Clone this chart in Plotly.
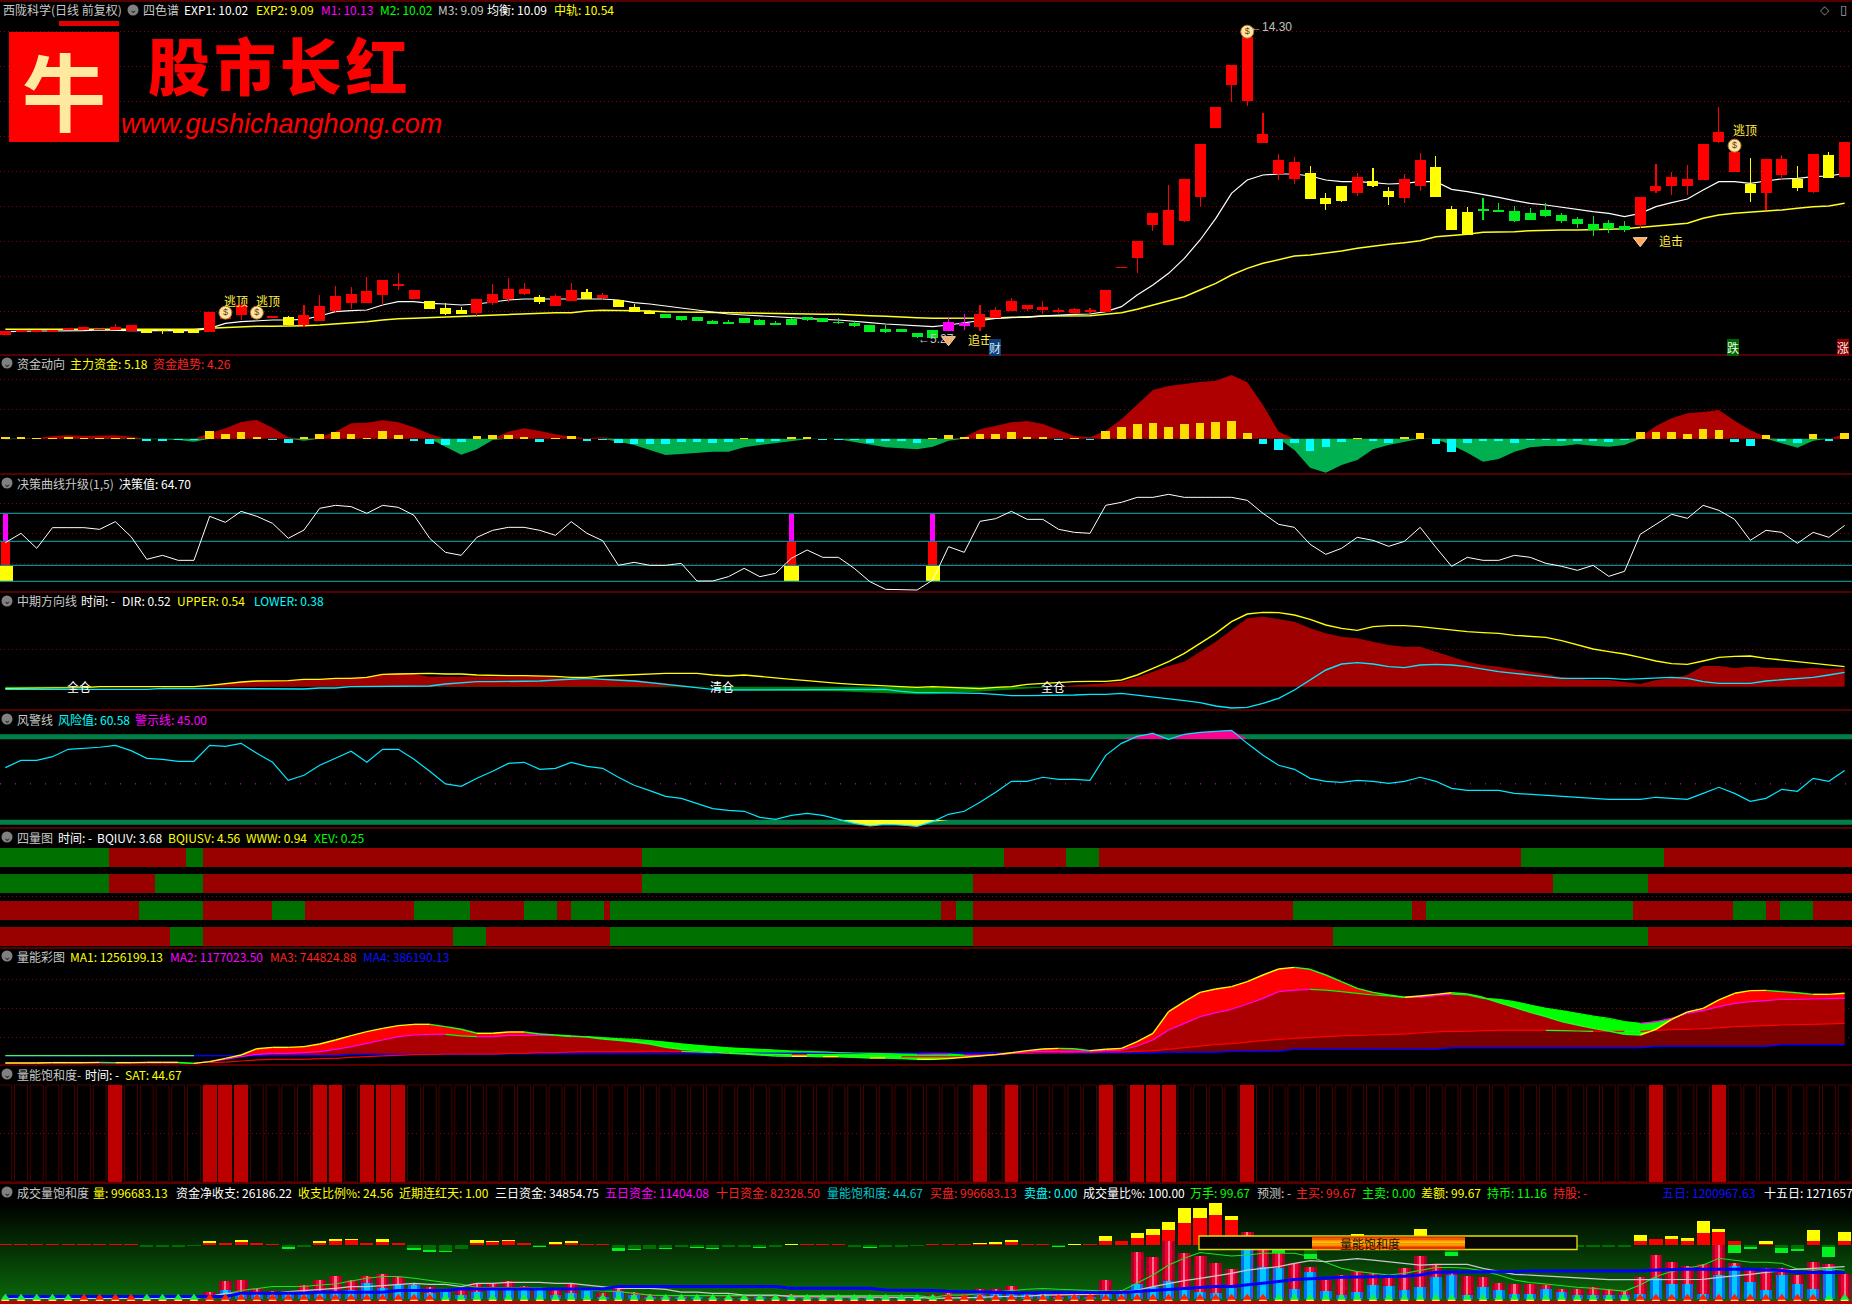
import plotly.graph_objects as go

WIDTH, HEIGHT = 1852, 1304
N = 118
days = list(range(N))

# ---------- main price panel ----------
candle_kind = list("R"*9+"Y"*4+"R"*5+"Y"+"R"*8+"Y"*3+"R"*4+"Y"+"RR"+"Y"+"R"+"YYY"+"G"*18+"MM"+"R"*21+"YYY"+"R"+"YY"+"RR"+"YYY"+"G"*10+"R"*7+"Y"+"RR"+"Y"+"R"+"Y"+"R")
body_top = [5.48,5.51,5.51,5.51,5.57,5.60,5.53,5.60,5.66,5.53,5.51,5.51,5.51,6.05,5.91,6.25,6.01,5.93,5.90,5.96,6.23,6.53,6.59,6.68,7.01,6.89,6.71,6.38,6.17,6.11,6.44,6.59,6.74,6.74,6.50,6.53,6.71,6.65,6.56,6.42,6.20,6.07,5.99,5.93,5.90,5.78,5.75,5.87,5.81,5.72,5.84,5.89,5.87,5.75,5.72,5.66,5.54,5.54,5.42,5.51,5.75,5.72,5.99,6.11,6.38,6.26,6.20,6.11,6.14,6.11,6.71,7.40,8.18,9.02,9.11,10.04,11.09,12.20,13.46,14.30,11.39,10.61,10.55,10.22,9.47,9.83,10.10,9.98,9.68,10.04,10.61,10.40,9.14,9.05,9.14,9.11,9.08,9.02,9.11,8.96,8.84,8.69,8.72,8.63,9.50,9.83,10.10,10.04,11.09,11.45,10.85,9.89,10.64,10.64,10.04,10.79,10.76,11.15]
body_bottom = [5.36,5.45,5.45,5.45,5.51,5.51,5.51,5.52,5.48,5.43,5.48,5.43,5.43,5.45,5.83,5.96,5.86,5.88,5.66,5.66,5.78,6.08,6.32,6.32,6.56,6.83,6.44,6.14,5.99,5.99,6.02,6.32,6.44,6.59,6.35,6.23,6.38,6.44,6.48,6.20,6.05,6.00,5.88,5.81,5.78,5.69,5.69,5.72,5.66,5.66,5.66,5.81,5.75,5.73,5.63,5.45,5.45,5.45,5.30,5.28,5.48,5.64,5.60,5.87,6.08,6.14,6.11,6.06,6.02,6.06,6.05,7.38,7.67,8.66,8.06,8.78,9.50,11.57,12.86,12.38,11.12,10.19,10.04,9.44,9.29,9.38,9.62,9.83,9.50,9.47,9.83,9.50,8.51,8.36,9.08,9.05,8.78,8.81,8.93,8.78,8.69,8.51,8.54,8.51,8.66,9.68,9.83,9.83,10.01,11.15,10.25,9.62,9.62,10.16,9.77,9.65,10.07,10.10]
high = [5.48,5.51,5.51,5.51,5.57,5.60,5.53,5.69,5.66,5.53,5.53,5.51,5.51,6.05,5.91,6.36,6.01,5.93,5.93,6.26,6.56,6.83,6.79,7.09,7.01,7.21,6.71,6.38,6.31,6.19,6.44,6.89,7.07,6.92,6.56,6.59,6.91,6.74,6.61,6.42,6.29,6.11,5.99,5.93,5.90,5.81,5.81,5.87,5.84,5.78,5.88,5.91,5.87,5.87,5.77,5.66,5.65,5.54,5.42,5.51,5.86,5.99,6.26,6.19,6.47,6.26,6.38,6.16,6.18,6.16,6.71,7.40,8.18,9.02,9.86,10.04,11.09,12.20,13.46,14.30,12.02,10.79,10.70,10.43,9.62,9.83,10.22,10.37,9.80,10.19,10.82,10.73,9.23,9.20,9.47,9.32,9.23,9.17,9.32,9.02,8.90,8.93,8.81,8.78,9.50,10.49,10.25,10.46,11.09,12.20,10.85,10.67,10.64,10.76,10.43,10.79,10.85,11.15]
low = [5.36,5.45,5.45,5.45,5.51,5.51,5.51,5.51,5.48,5.43,5.39,5.43,5.43,5.45,5.83,5.81,5.86,5.88,5.66,5.59,5.78,6.03,6.14,6.32,6.26,6.71,6.44,6.14,5.96,5.99,5.93,6.26,6.35,6.56,6.29,6.23,6.38,6.44,6.41,6.20,6.05,6.00,5.88,5.78,5.78,5.69,5.69,5.72,5.66,5.66,5.66,5.78,5.75,5.69,5.60,5.45,5.42,5.45,5.27,5.28,5.48,5.51,5.48,5.87,6.08,6.09,5.99,6.01,5.99,6.03,6.05,7.38,7.22,8.48,8.06,8.75,9.20,11.57,12.35,12.23,11.12,10.01,9.89,9.44,9.11,9.35,9.53,9.80,9.26,9.32,9.68,9.50,8.51,8.36,8.81,9.05,8.75,8.81,8.90,8.72,8.57,8.33,8.42,8.45,8.57,9.62,9.56,9.56,10.01,11.12,10.25,9.35,9.11,10.04,9.68,9.62,10.07,10.10]
ma_white = [5.46,5.48,5.48,5.48,5.48,5.49,5.51,5.49,5.49,5.49,5.49,5.49,5.49,5.56,5.71,5.76,5.79,5.81,5.81,5.83,5.93,6.06,6.09,6.11,6.26,6.36,6.36,6.31,6.29,6.26,6.29,6.36,6.41,6.44,6.44,6.44,6.44,6.44,6.44,6.41,6.33,6.29,6.23,6.16,6.09,6.03,5.99,5.96,5.93,5.91,5.87,5.85,5.83,5.81,5.76,5.73,5.69,5.66,5.63,5.61,5.66,5.73,5.78,5.86,5.88,5.91,5.93,5.96,5.98,5.99,6.06,6.21,6.56,6.86,7.21,7.66,8.21,8.86,9.61,10.01,10.16,10.19,10.19,10.13,10.01,9.96,9.96,9.93,9.89,9.91,9.96,9.96,9.73,9.66,9.58,9.49,9.39,9.31,9.26,9.19,9.13,9.06,9.01,8.91,9.01,9.21,9.33,9.44,9.71,9.96,9.96,9.91,9.98,10.04,10.06,10.11,10.13,10.21]
ma_yellow = [5.53]*13 + [5.56,5.58,5.61,5.62,5.62,5.62,5.64,5.66,5.69,5.73,5.76,5.81,5.85,5.86,5.88,5.89,5.91,5.93,5.96,5.98,5.99,6.01,6.03,6.03,6.08,6.10,6.10,6.09,6.08,6.06,6.05,6.04,6.03,6.03,6.01,6.01,6.00,5.99,5.98,5.98,5.98,5.95,5.94,5.92,5.91,5.88,5.86,5.86,5.86,5.86,5.87,5.89,5.89,5.93,5.94,5.94,5.94,5.98,6.03,6.13,6.26,6.38,6.51,6.71,6.91,7.16,7.36,7.51,7.63,7.73,7.76,7.81,7.88,7.96,8.03,8.08,8.13,8.19,8.31,8.34,8.38,8.44,8.44,8.46,8.49,8.51,8.51,8.51,8.51,8.53,8.55,8.59,8.63,8.69,8.71,8.86,8.96,9.01,9.04,9.09,9.11,9.16,9.21,9.23,9.31]
price_grid = [14.46,13.42,12.37,11.32,10.27,9.22,8.17,7.12,6.07]
bag_days = [14,16,79,110]
bag_prices = [6.03,6.03,14.46,11.04]
chase_days = [60,104]
chase_prices = [5.22,8.19]

# ---------- capital flow ----------
flow_trend = [-0.6,0,0.3,2.4,3,2.4,3,3,1.8,-0.6,-0.6,-1.2,-2.7,4.8,9.3,15,16.8,9.9,1.2,-1.8,1.2,6.3,13.8,14.4,16.5,14.7,10.2,4.2,-7.2,-14.4,-9.6,-1.2,6.3,9.3,6.9,3.9,1.8,0.3,1.2,-2.7,-5.7,-10.2,-14.7,-13.8,-12.6,-11.7,-11.7,-7.8,-5.7,-4.2,-2.7,-0.6,0,-0.6,-3,-5.7,-7.8,-8.7,-9.6,-7.2,-1.8,1.2,8.4,11.7,14.7,15.9,13.2,7.8,2.4,1.2,7.2,17.4,30.3,43.8,47.4,49.5,51,52.2,57.3,50.7,30.3,6.3,-10.2,-26.1,-30.6,-23.7,-19.2,-9.6,-5.7,-2.7,0.3,-0.6,-5.7,-12.6,-20.7,-18.3,-11.7,-7.8,-6.6,-6.6,-5.1,-6.3,-7.2,-5.7,1.2,11.4,18.3,22.8,24,25.8,16.2,7.8,1.2,-4.2,-8.1,-1.8,0,4.26]
flow_main = [1.2,1.2,0.6,0.6,1.5,0.6,0.6,0.6,0.6,-1.8,-2.1,-1.2,-1.2,6.9,4.2,6,1.5,-1.2,-3.9,1.5,4.2,6,4.2,0.6,6.9,3.3,-2.1,-4.8,-5.7,-3,2.4,3.3,3.3,1.5,-3,0.6,2.4,-2.1,-1.2,-3.9,-4.8,-4.8,-5.1,-3,-3,-3.9,-3,0.6,-3,-2.1,1.2,1.5,-1.2,-0.9,-1.2,-3.9,-2.1,-2.1,-3.9,0.6,3.3,1.5,4.2,4.2,6,1.5,1.5,-1.2,0.6,-1.2,6.9,10.5,13.2,14.1,10.5,13.2,14.1,15,15.9,5.1,-4.8,-10.2,-3.9,-11.1,-7.5,-3,0.6,-2.1,-3.9,1.5,5.1,-4.8,-12,-3.9,-2.1,-2.1,-3.9,-1.2,-1.2,-2.1,-2.1,-2.1,-3,-1.2,6,6,6,4.2,8.7,7.8,-3,-6.6,3.3,-2.1,-3.9,4.2,-2.1,5.18]
flow_grid = [53.4,26.4]

# ---------- decision curve ----------
decision = [44,55.2,37.2,62,62,62,60,69.2,51.2,24,28.8,22.8,22.8,75.6,68.4,81.6,75.6,67.2,49.2,59.2,85.2,88.8,87.2,79.2,88.8,86.4,76.8,49.2,32.4,28.8,50.4,58.8,62.4,62.4,58.8,52.8,69.2,55.2,46.4,16.8,20.4,16.8,16.8,19.2,-2,-2,3.2,13.2,3.2,7.2,25.2,35.2,26.4,26.4,13.2,-2.8,-12,-12,-12.8,-0.8,39.2,32.4,69.6,72.8,81.6,72,72,60,56.4,55.2,88.8,92.4,98.4,98.4,102,98.4,98.4,98.4,98.4,94.8,79.2,66,62.4,42,30,37.2,50.4,46.8,39.6,45.6,62.4,38.4,15.6,26.4,22.8,22.8,28.8,26.4,19.2,15.6,10.8,16.8,3.6,9.6,54,66,78,73.2,88.8,82.8,72,46.8,58.8,56.4,43.2,56.4,50.4,64.7]
decision_levels = [79.2,45.6,16.8,-2.4]
decision_grid = [91.2,55.2,19.2]
signal_days = [0,50,59]

# ---------- mid-term direction ----------
dir_line = [-.06,-.06,-.04,-.04,-.03,-.02,0,0,0,0,0,0,.02,.05,.10,.14,.16,.16,.18,.20,.22,.24,.26,.30,.38,.40,.38,.30,.30,.30,.30,.30,.32,.32,.32,.29,.26,.26,.25,.22,.20,.14,.10,.05,0,-.02,-.10,-.12,-.12,-.12,-.12,-.12,-.12,-.14,-.16,-.18,-.18,-.21,-.23,-.23,-.20,-.16,-.14,-.12,-.08,-.04,-.02,0,.04,.06,.10,.15,.28,.45,.62,.75,1.05,1.35,1.70,2.05,2.10,2.02,1.95,1.75,1.60,1.50,1.45,1.35,1.25,1.20,1.20,1.05,.90,.75,.65,.60,.52,.45,.38,.28,.24,.20,.20,.14,.08,.20,.25,.35,.62,.62,.56,.60,.57,.57,.54,.57,.53,.55]
upper_line = [-.05,-.05,-.05,-.04,-.04,-.03,0,.01,0,0,0,0,0,.04,.10,.14,.17,.18,.18,.22,.22,.25,.25,.28,.37,.38,.40,.40,.38,.38,.35,.33,.33,.33,.33,.31,.28,.28,.32,.34,.38,.40,.40,.40,.40,.35,.32,.35,.30,.25,.22,.18,.13,.10,.07,.05,.03,0,-.02,0,-.02,-.03,-.06,-.02,0,.07,.10,.12,.15,.16,.16,.20,.35,.55,.75,1.00,1.30,1.60,1.95,2.18,2.23,2.22,2.15,2.02,1.85,1.75,1.69,1.80,1.83,1.83,1.80,1.75,1.68,1.65,1.62,1.60,1.54,1.50,1.48,1.38,1.25,1.13,1.05,.98,.88,.77,.69,.67,.77,.88,.91,.92,.85,.80,.75,.70,.65,.60]
lower_line = [-.08]*10 + [-.05]*5 + [-.07]*5 + [-.04,-.04,0,0,.01,.01,.02,.02,.08,.12,.15,.15,.15,.17,.17,.20,.22,.25,.22,.20,.17,.12,.07,.02,-.02,-.08] + [-.10]*6 + [-.08]*5 + [-.14,-.18,-.18,-.18,-.20,-.20,-.23,-.27,-.27,-.27,-.27,-.25,-.23,-.23,-.20,-.25,-.32,-.37,-.42,-.48,-.58,-.64,-.62,-.50,-.35,-.10,.20,.50,.68,.72,.68,.60,.57,.65,.67,.65,.60,.52,.45,.40,.35,.30,.25,.25,.25,.25,.22,.24,.28,.28,.25,.15,.10,.10,.10,.17,.20,.25,.28,.35,.43]
dir_grid = [1.12]

# ---------- risk line ----------
risk = [64,72.5,72.5,76.8,85.4,86.6,87.8,90.1,83.9,74.9,73.7,71.4,71.4,90.1,88.9,92.4,80.7,70.2,49.1,55,66.7,74.9,83.1,70.2,85.4,85.4,73.7,59.7,44.9,42.1,51.5,59.7,69,70.2,62,63.2,70.2,65.5,63.2,52.7,43.3,37.1,30.4,28.1,22.2,16,14,12.9,5.9,3.5,8.2,10.5,8.2,3.5,-1.2,-4.3,-2.3,-3.1,-4.7,0.8,9.4,12.9,23.4,35.1,48,48,52.7,50.3,50.3,49.1,78.4,92.4,100.6,104.1,97.1,103,105.3,106.5,107.6,92.4,78.4,66.7,62,51.5,48,46.8,49.1,48,45.6,48,52.7,48,39.8,37.4,37.4,37.4,33.9,32.8,31.6,30.4,29.3,28.1,26.9,26.9,26.9,29.3,28.1,26.9,33.9,41,33.9,24.6,28.1,38.6,36.3,51.5,48,60.58]
risk_warning = 45
risk_top, risk_bottom = 100, 0
risk_top_inner, risk_bottom_inner = 97.5, 2.7

# ---------- four-row state map: edges between alternating states ----------
row_first = ["G", "G", "R", "R"]
row_edges = [
    [6.6,11.5,12.57,40.5,63.5,67.46,69.55,96.4,105.5,117.5],
    [6.6,9.5,12.57,40.5,61.55,98.46,104.5,117.5],
    [8.5,12.57,16.98,19.05,26,29.54,33,35.1,36,38.07,38.45,59.53,60.47,61.55,81.9,89.5,90.4,103.55,109.9,112,112.9,115,117.5],
    [10.5,12.57,28.5,30.6,38.45,61.55,84.44,104.5,117.5],
]

# ---------- volume colour map ----------
ma1 = [66,66,66,72,72,72,77,72,72,77,77,77,60,88,143,198,302,324,324,336,380,446,517,583,638,682,704,704,666,622,556,556,578,578,544,528,512,495,462,440,412,380,324,292,270,248,226,214,198,182,176,176,170,170,160,148,148,138,126,126,138,160,182,204,236,270,297,308,302,270,292,308,418,556,913,1078,1232,1287,1326,1408,1518,1617,1644,1612,1518,1408,1298,1232,1188,1150,1172,1199,1226,1204,1150,1062,984,902,830,748,693,638,594,539,528,622,786,908,968,1106,1216,1260,1265,1243,1226,1199,1199,1216]
ma2 = [66]*12 + [60,88,126,170,209,226,226,236,253,292,336,390,446,500,528,539,539,512,500,500,522,522,522,522,500,500,484,468,456,434,412,380,358,336,314,302,292,280,264,258,248,236,231,226,220,214,209,214,214,198,198,204,226,248,258,258,258,258,270,280,346,446,610,720,830,896,952,1040,1133,1243,1270,1282,1270,1243,1216,1188,1172,1150,1150,1177,1204,1188,1133,1116,1078,1023,968,930,886,842,803,748,720,748,803,886,930,996,1050,1078,1094,1116,1116,1122,1128,1133]
ma3 = [50]*13 + [72,82,99,116,126,126,126,138,143,160,170,182,192,204,209,214,214,214,214,226,226,236,236,248,253,253,253,253,258,258,258,248,236,236,226,214,209,204,204,198,192,187,182,176,170,170,170,170,170,187,198,226,226,236,236,242,242,248,248,258,270,292,319,346,374,385,412,434,456,473,484,500,512,522,528,539,544,561,578,588,588,600,605,605,605,605,600,594,588,588,588,583,605,616,622,632,644,666,676,682,693,698,704,710,720]
ma4 = [187]*22 + [209]*10 + [220]*14 + [226]*24 + [231]*4 + [242]*4 + [258]*4 + [292]*10 + [319]*13 + [341]*8 + [368]*5
ma_grid = [1446,968,490]

# ---------- saturation ----------
sat_days = [7,13,14,15,20,21,23,24,25,62,64,70,72,73,74,79,105,109]

# ---------- volume & flow ----------
net_main = [6]*9 + [-12,-12,-12,-6,14,14,20,14,8,-10,-10,14,26,32,14,20,14,-16,-28,-34,-22,14,20,26,14,-4,8,14,8,6,-18,-22,-22,-18,-8,-12,-16,-10,-8,-10,-8,4,8,6,6,-8,-8,-8,-8,-6,6,8,8,8,8,20,8,8,-4,4,6,26,26,44,62,92,134,164,182,152,40,20,-24,-16,-50,-16,-16,40,16,16,20,56,40,-40,-20,-20,-16,-10,-10,-8,-8,-12,-8,-8,-8,26,38,38,26,74,80,26,-12,8,-16,-22,26,-10,26]
net_total = [6]*9 + [-12,-12,-12,-6,26,14,32,14,8,-22,-10,26,38,38,14,38,14,-28,-40,-40,-22,32,26,32,14,-8,20,26,8,6,-34,-28,-22,-22,-8,-16,-20,-10,-8,-16,-8,8,8,6,6,-8,-14,-8,-8,-6,6,8,8,14,20,32,8,8,-8,8,6,56,26,74,98,140,224,224,254,176,60,20,-48,-16,-82,-16,-16,66,16,16,20,98,40,-64,-20,-20,-16,-10,-10,-8,-8,-12,-10,-12,-8,62,38,56,44,146,98,-46,-20,26,-46,-34,92,-70,80]
volume = [4]*13 + [31,73,77,44,33,33,57,77,93,77,93,101,88,64,51,37,37,64,64,73,53,40,44,60,44,24,44,31,21,17,17,11,8,8,8,16,11,20,11,13,11,11,8,13,8,11,16,24,21,40,40,53,31,33,24,24,21,77,37,189,169,233,185,173,145,121,269,213,184,144,129,77,97,113,104,88,125,173,141,113,93,89,65,61,61,57,40,41,49,41,35,89,177,149,133,141,217,145,117,125,124,97,149,141,100]
volume_main = [3]*13 + [11,37,31,24,17,24,24,24,35,37,64,44,57,57,27,31,17,31,37,47,40,37,17,24,40,11,35,17,11,8,8,8,5,5,5,8,5,8,5,5,5,5,4,5,4,4,4,11,8,16,24,21,27,21,11,13,8,21,24,61,51,73,37,31,24,44,213,131,125,41,111,33,17,31,57,53,37,49,91,97,17,49,37,21,21,41,29,19,19,19,16,21,85,61,61,21,97,133,69,37,97,61,40,128,0]
vol_green = [17]+[4]*12 + [13,21,35,44,51,51,51,57,61,73,84,91,91,84,75,67,60,47,47,47,47,47,40,40,37,33,31,24,17,15,15]+[15]*15 + [8,17,17,24,31,35,40,43,40,37,33,33,33,64,97,137,164,187,181,173,177,184,184,184,171,147,124,111,104,97,104,117,127,127,124,113,97,77,67,61,53,48,44,40,33,57,91,111,124,137,164,155,148,148,144,121,117,121,117]
vol_grey = [4]*13 + [11,24,24,24,24,31,35,37,44,51,51,55,60,64,60,60,51,64,64,68,68,68,64,64,57,51,44,44,44,40,29,29,24,24,17,17,17,11,11,8,8,8,8,8,8,8,4,5,5,8,11,11,13,17,17,17,20,24,31,37,51,64,75,84,93,104,117,124,131,144,155,151,157,163,157,151,144,137,140,140,140,124,111,100,97,93,88,84,81,79,79,79,77,77,80,80,88,93,100,108,115,121,124,128,131]
vol_blue = [11]*15 + [24]*5 + [28]*5 + [35]*4 + [41]*10 + [51]*11 + [44]*6 + [37]*3 + [35,32,31,29,27,27,25,27,27,27,27,27,27,31,35,39,41,47,51,51,57,64,71,79,81,85,88,88,89,91,92,97,108,108,108,108,109,111,113,113,113,113,113,113,113,113,117,120,120,120,120,121,120,117,115,107,107,107,107]
flame_red_runs = [(5,8),(13,27),(60,80),(104,115)]

lengths = {name: len(arr) for name, arr in dict(kind=candle_kind, body_top=body_top, body_bottom=body_bottom, high=high, low=low, white=ma_white, yellow=ma_yellow, trend=flow_trend, fmain=flow_main, decision=decision, dir=dir_line, upper=upper_line, lower=lower_line, risk=risk, ma1=ma1, ma2=ma2, ma3=ma3, ma4=ma4, net_main=net_main, net_total=net_total, volume=volume, volume_main=volume_main, vgreen=vol_green, vgrey=vol_grey, vblue=vol_blue).items() if len(arr) != N}
if lengths:
    raise ValueError(f"wrong series lengths: {lengths}")

# ---------- layout helpers ----------
XMIN, XMAX = -0.337, 117.47
PANELS = {  # name: (top px, bottom px, range low, range high)
    "y":  (2, 355, 4.76, 15.35),
    "y2": (355, 474, -31.8, 75.3),
    "y3": (474, 592, -15.2, 126.4),
    "y4": (592, 710, -0.70, 2.84),
    "y5": (710, 828, -6.63, 131.4),
    "y6": (828, 948, 0.563, 5.12),
    "y7": (948, 1065, 33, 1963.5),
    "y8": (1065, 1183, -0.0138, 1.207),
    "y9": (1183, 1304, -352, 374),
}
GRIDS = {"y": price_grid, "y2": flow_grid, "y3": decision_grid, "y4": dir_grid, "y6": [2.51], "y7": ma_grid, "y8": [0.5]}
DOT = "#8E0000"

layout_axes = {"xaxis": dict(domain=[0, 1], range=[XMIN, XMAX], visible=False, fixedrange=True)}
for key, (top, bottom, lo, hi) in PANELS.items():
    grid = GRIDS.get(key)
    name = "yaxis" + key[1:]
    layout_axes[name] = dict(domain=[1 - bottom / HEIGHT, 1 - top / HEIGHT], range=[lo, hi], anchor="x",
                             showticklabels=False, ticks="", showline=False, zeroline=False, fixedrange=True,
                             showgrid=bool(grid), tickvals=grid or [], gridcolor=DOT, griddash="1px,3px", gridwidth=1)
def overlay(base, lo, hi):
    return dict(domain=layout_axes["yaxis" + base[1:]]["domain"], range=[lo, hi], anchor="x", overlaying=base,
                showticklabels=False, ticks="", showline=False, zeroline=False, showgrid=False, fixedrange=True)
layout_axes["yaxis10"] = overlay("y9", -18.67, 465)
layout_axes["yaxis11"] = overlay("y", 4.76, 15.35)
layout_axes["yaxis12"] = overlay("y2", -31.8, 75.3)

fig = go.Figure()

def line(y, color, axis, width=1, x=None, dash=None, fill=None, fillcolor=None):
    fig.add_trace(go.Scatter(x=days if x is None else x, y=y, mode="lines", yaxis=axis, xaxis="x",
                             line=dict(color=color, width=width, dash=dash), fill=fill, fillcolor=fillcolor,
                             hoverinfo="skip", showlegend=False, connectgaps=False))

def area(y, fillcolor, axis, fill="tonexty"):
    fig.add_trace(go.Scatter(x=days, y=y, mode="lines", yaxis=axis, xaxis="x", line=dict(width=0, color=fillcolor),
                             fill=fill, fillcolor=fillcolor, hoverinfo="skip", showlegend=False))

def bars(x, y, color, axis, width, base=None, line_color=None, line_width=0):
    fig.add_trace(go.Bar(x=x, y=y, base=base, yaxis=axis, xaxis="x", width=width, hoverinfo="skip", showlegend=False,
                         marker=dict(color=color, line=dict(color=line_color or "rgba(0,0,0,0)", width=line_width))))

def updown_line(series, up_color, down_color, axis, width, first=0):
    """Colour each step of a series by whether it rises or falls."""
    ux, uy, dx, dy = [], [], [], []
    for i in range(first, N - 1):
        tx, ty = (ux, uy) if series[i + 1] >= series[i] else (dx, dy)
        tx += [i, i + 1, None]; ty += [series[i], series[i + 1], None]
    line(uy, up_color, axis, width, x=ux)
    line(dy, down_color, axis, width, x=dx)

# ---- price
KIND = {"R": "#FF0000", "Y": "#FFFF00", "G": "#00EE20", "M": "#FF00FF"}
kc = [KIND[k] for k in candle_kind]
line(ma_yellow, "#FFFF20", "y", 1.5)
line(ma_white, "#FFFFFF", "y", 1.2)
bars(days, [h - l for h, l in zip(high, low)], kc, "y11", 0.07, base=low)
bars(days, [t - b for t, b in zip(body_top, body_bottom)], kc, "y11", 0.7, base=body_bottom)
fig.add_trace(go.Scatter(x=bag_days, y=bag_prices, mode="markers+text", yaxis="y11", xaxis="x", text=["$"] * 4,
                         textposition="middle center", textfont=dict(size=9, color="#6A4000", family="Liberation Sans"),
                         marker=dict(symbol="circle", size=13, color="#FFE2A8", line=dict(color="#A87810", width=1)),
                         hoverinfo="skip", showlegend=False))
fig.add_trace(go.Scatter(x=chase_days, y=chase_prices, mode="markers", yaxis="y11", xaxis="x",
                         marker=dict(symbol="triangle-down", size=12, color="#FFA860", line=dict(color="#FFD8A8", width=1)),
                         hoverinfo="skip", showlegend=False))

# ---- capital flow
area([max(v, 0) for v in flow_trend], "#AE0000", "y2", "tozeroy")
area([min(v, 0) for v in flow_trend], "#00B050", "y2", "tozeroy")
bars(days, flow_main, ["#FFDD00" if v > 0 else "#00FFFF" for v in flow_main], "y12", 0.55)

# ---- decision curve
for lv in decision_levels:
    line([lv, lv], "#108A8A", "y3", 1.3, x=[XMIN, XMAX])
a, b, c, d = decision_levels
bars(signal_days, [a - b] * 3, "#FF00FF", "y3", 0.32, base=[b] * 3)
bars(signal_days, [b - c] * 3, "#FF0000", "y3", 0.58, base=[c] * 3)
bars(signal_days, [c - d] * 3, "#FFFF00", "y3", 0.92, base=[d] * 3)
line(decision, "#FFFFFF", "y3", 1)

# ---- direction
area([max(v, 0) for v in dir_line], "#A00000", "y4", "tozeroy")
area([min(v, 0) for v in dir_line], "#008000", "y4", "tozeroy")
line(upper_line, "#FFFF00", "y4", 1.4)
line(lower_line, "#00E8FF", "y4", 1.4)

# ---- risk
line([risk_warning] * 2, "#FF00FF", "y5", 1, x=[XMIN, XMAX], dash="1px,14px")
line([risk_top] * 2, "#008048", "y5", 5, x=[XMIN, XMAX])
line([risk_bottom] * 2, "#008048", "y5", 5, x=[XMIN, XMAX])
area([risk_top_inner] * N, "rgba(0,0,0,0)", "y5", None)
area([max(v, risk_top_inner) for v in risk], "#FF0090", "y5")
area([risk_bottom_inner] * N, "rgba(0,0,0,0)", "y5", None)
area([min(v, risk_bottom_inner) for v in risk], "#FFFF20", "y5")
line(risk, "#00E8FF", "y5", 1.2)

# ---- state rows
for r, (first, edges) in enumerate(zip(row_first, row_edges)):
    state, start = first, XMIN
    xs, bases, cols = [], [], []
    for e in edges:
        xs.append(e - start); bases.append(start)
        cols.append("#007000" if state == "G" else "#990000")
        state, start = ("R" if state == "G" else "G"), e
    fig.add_trace(go.Bar(x=xs, y=[4 - r] * len(xs), base=bases, orientation="h", xaxis="x", yaxis="y6", width=0.73,
                         marker=dict(color=cols, line=dict(width=0)), hoverinfo="skip", showlegend=False))

# ---- colour volume
l3 = [max(p, q) for p, q in zip(ma3, ma4)]
l2 = [max(p, q) for p, q in zip(ma2, l3)]
l1 = [max(p, q) for p, q in zip(ma1, l2)]
area(ma4, "rgba(0,0,0,0)", "y7", None)
area(l3, "#780000", "y7")
area(l3, "rgba(0,0,0,0)", "y7", None)
area(l2, "#AC0000", "y7")
area(l2, "rgba(0,0,0,0)", "y7", None)
area(l1, "#FF0000", "y7")
area([min(p, q) for p, q in zip(ma1, ma2)], "rgba(0,0,0,0)", "y7", None)
area(ma2, "#00FF00", "y7")
updown_line(ma4, "#0000FF", "#20FF20", "y7", 1.5)
line(ma4[:13], "#40FF40", "y7", 1.2, x=days[:13])
updown_line(ma3, "#FF0000", "#20FF20", "y7", 1.2, first=13)
updown_line(ma2, "#FF00FF", "#00FF00", "y7", 1.2)
updown_line(ma1, "#FFFF00", "#20FF20", "y7", 1.4)

# ---- saturation
bars(days, [1] * N, "rgba(0,0,0,0)", "y8", 0.82, line_color="#4A0000", line_width=1)
bars(sat_days, [1] * len(sat_days), "#BC0000", "y8", 0.88)

# ---- volume panel
fig.add_trace(go.Heatmap(x=[XMIN, XMAX], y=[-352, 252], z=[[1, 1], [0, 0]], zsmooth="best", xaxis="x", yaxis="y9",
                         colorscale=[[0, "#000000"], [1, "#0B6C0B"]], showscale=False, hoverinfo="skip"))
bars(days, net_total, ["#FFFF00" if v > 0 else "#00F020" for v in net_total], "y9", 0.84)
bars(days, net_main, ["#FF0000" if v > 0 else "#006E00" for v in net_main], "y9", 0.84)
bars(days, volume, "#A80028", "y10", 0.82)
bars(days, volume, "#F00030", "y10", 0.46)
bars(days, volume, "#FF7090", "y10", 0.14)
bars(days, volume_main, "#0070F0", "y10", 0.74)
bars(days, volume_main, "#00C8FF", "y10", 0.36)
line(vol_green, "#20E020", "y10", 1.1)
line(vol_grey, "#C8C8C8", "y10", 1.2)
line(vol_blue, "#0000FF", "y10", 3)
flame_red = [any(s <= i <= e for s, e in flame_red_runs) for i in days]
fig.add_trace(go.Scatter(x=days, y=[-3] * N, mode="markers", xaxis="x", yaxis="y10", hoverinfo="skip", showlegend=False,
                         marker=dict(symbol="triangle-up", size=9, color="#FFEE60", line=dict(width=0))))
fig.add_trace(go.Scatter(x=days, y=[6] * N, mode="markers", xaxis="x", yaxis="y10", hoverinfo="skip", showlegend=False,
                         marker=dict(symbol="triangle-up", size=8, line=dict(width=0),
                                     color=["#FF2000" if f else "#10F040" for f in flame_red])))

# ---------- decoration in page pixels ----------
def px(x): return x / WIDTH
def py(y): return 1 - y / HEIGHT

shapes, annotations = [], []
def rect(x0, y0, x1, y1, fill, border=None, w=0, kind="rect", layer="above"):
    shapes.append(dict(type=kind, xref="paper", yref="paper", x0=px(x0), x1=px(x1), y0=py(y0), y1=py(y1),
                       fillcolor=fill, line=dict(color=border or fill, width=w), layer=layer))
def text(x, y, s, color, size=12, anchor="left", family="Noto Sans CJK SC", bg=None, weight=None, style=None):
    f = dict(color=color, size=size, family=family)
    if weight: f["weight"] = weight
    if style: f["style"] = style
    annotations.append(dict(xref="paper", yref="paper", x=px(x), y=py(y), text=s, showarrow=False, xanchor=anchor,
                            yanchor="middle", font=f, borderpad=0, borderwidth=0, bgcolor=bg, align="left"))

for y in [1, 355, 474, 592, 710, 828, 948, 1065, 1183]:
    rect(0, y - 0.5, WIDTH, y + 0.5, "#A80000")
rect(0, 1301, WIDTH, 1304, "#C00000")

# logo
rect(9, 32, 119, 142, "#FF0000")
rect(59, 21, 119, 26, "#E00000")
text(64, 88, "牛", "#FFE9A0", size=84, anchor="center", weight=700)
text(278, 64, "股\u200a市\u200a长\u200a红", "#FF0000", size=62, anchor="center", weight=900)
text(281, 124, "www.gushichanghong.com", "#FF0000", size=27, anchor="center", family="Liberation Sans", style="italic")

LG, W, Y, R, G, M, C, B = "#C8C8C8", "#FFFFFF", "#FFFF00", "#FF2020", "#00FF00", "#FF00FF", "#00FFFF", "#1010FF"
HEAD = [
 (10, [(3,"西陇科学(日线 前复权)",LG),(143,"四色谱",LG),(184,"EXP1: 10.02",W),(256,"EXP2: 9.09",Y),(321,"M1: 10.13",M),(380,"M2: 10.02",G),(438,"M3: 9.09",LG),(487,"均衡: 10.09",W),(554,"中轨: 10.54",Y)]),
 (363,[(17,"资金动向",LG),(70,"主力资金: 5.18",Y),(153,"资金趋势: 4.26",R)]),
 (483,[(17,"决策曲线升级(1,5)",LG),(119,"决策值: 64.70",W)]),
 (601,[(17,"中期方向线",LG),(81,"时间: -",W),(122,"DIR: 0.52",W),(177,"UPPER: 0.54",Y),(254,"LOWER: 0.38",C)]),
 (719,[(17,"风警线",LG),(58,"风险值: 60.58",C),(135,"警示线: 45.00",M)]),
 (837,[(17,"四量图",LG),(58,"时间: -",W),(97,"BQIUV: 3.68",W),(168,"BQIUSV: 4.56",Y),(246,"WWW: 0.94",Y),(314,"XEV: 0.25",G)]),
 (956,[(17,"量能彩图",LG),(70,"MA1: 1256199.13",Y),(170,"MA2: 1177023.50",M),(270,"MA3: 744824.88",R),(363,"MA4: 386190.13",B)]),
 (1074,[(17,"量能饱和度-",LG),(85,"时间: -",W),(125,"SAT: 44.67",Y)]),
 (1192,[(17,"成交量饱和度",LG),(93,"量: 996683.13",Y),(176,"资金净收支: 26186.22",W),(298,"收支比例%: 24.56",Y),(399,"近期连红天: 1.00",Y),(495,"三日资金: 34854.75",W),(605,"五日资金: 11404.08",M),(716,"十日资金: 82328.50",R),(827,"量能饱和度: 44.67","#00C8C8"),
        (930,"买盘: 996683.13",R),(1024,"卖盘: 0.00",C),(1083,"成交量比%: 100.00",W),(1190,"万手: 99.67",G),(1257,"预测: -",LG),(1296,"主买: 99.67",R),(1362,"主卖: 0.00",G),(1421,"差额: 99.67",Y),(1487,"持币: 11.16",G),(1553,"持股: -",R),(1662,"五日: 1200967.63",B),(1764,"十五日: 1271657",W)]),
]
for y, runs in HEAD:
    for x, s, c in runs:
        text(x, y, s, c, 12)
for cx, cy in [(133,10),(7,363),(7,483),(7,601),(7,719),(7,837),(7,956),(7,1074),(7,1192)]:
    rect(cx - 5.5, cy - 5.5, cx + 5.5, cy + 5.5, "#808080", kind="circle")
    text(cx, cy, "⌄", "#222222", 10, anchor="center", family="DejaVu Sans")

text(1825, 10, "◇", "#888888", 12, anchor="center", family="DejaVu Sans")
text(1843, 10, "▯", "#AAAAAA", 13, anchor="center", family="DejaVu Sans")
text(236, 300, "逃顶", "#FFEE40", 12, anchor="center")
text(268, 300, "逃顶", "#FFEE40", 12, anchor="center")
text(1745, 129, "逃顶", "#FFEE40", 12, anchor="center")
text(1250, 27, "←14.30", "#C0C0C0", 12, family="Liberation Sans")
text(1659, 241, "追击", "#FFEE40", 12)
text(968, 339, "追击", "#FFEE40", 12)
text(918, 339, "←5.27", "#C0C0C0", 12, family="Liberation Sans")
text(995, 347, "财", "#C8E8FF", 12, anchor="center", bg="#103C78")
text(1733, 347, "跌", "#E8FFE8", 12, anchor="center", bg="#006400")
text(1843, 347, "涨", "#FFE8E8", 12, anchor="center", bg="#8C0000")
text(79, 686, "全仓", W, 12, anchor="center")
text(722, 686, "清仓", W, 12, anchor="center")
text(1053, 686, "全仓", W, 12, anchor="center")

# saturation gauge
rect(1199, 1236, 1577, 1249.5, "#050505", border="#E8E000", w=1.3)
stripes = ["#E83000", "#FF5800", "#FF8400", "#FFA800", "#FFC000", "#FFA800", "#FF8400", "#FF5800", "#E83000"]
for k, col in enumerate(stripes):
    rect(1312, 1236.7 + k * 1.34, 1465, 1236.7 + (k + 1) * 1.34 + 0.4, col)
text(1370, 1243, "量能饱和度", "#101010", 12, anchor="center")

fig.update_layout(width=WIDTH, height=HEIGHT, margin=dict(l=0, r=0, t=0, b=0, pad=0), paper_bgcolor="#000000",
                  plot_bgcolor="#000000", barmode="overlay", bargap=0, showlegend=False, hovermode=False,
                  shapes=shapes, annotations=annotations, **layout_axes)
fig.write_html("out.html", config=dict(displayModeBar=False, staticPlot=True),
               post_script="document.body.style.margin='0';document.body.style.overflow='hidden';document.body.style.background='#000';")
